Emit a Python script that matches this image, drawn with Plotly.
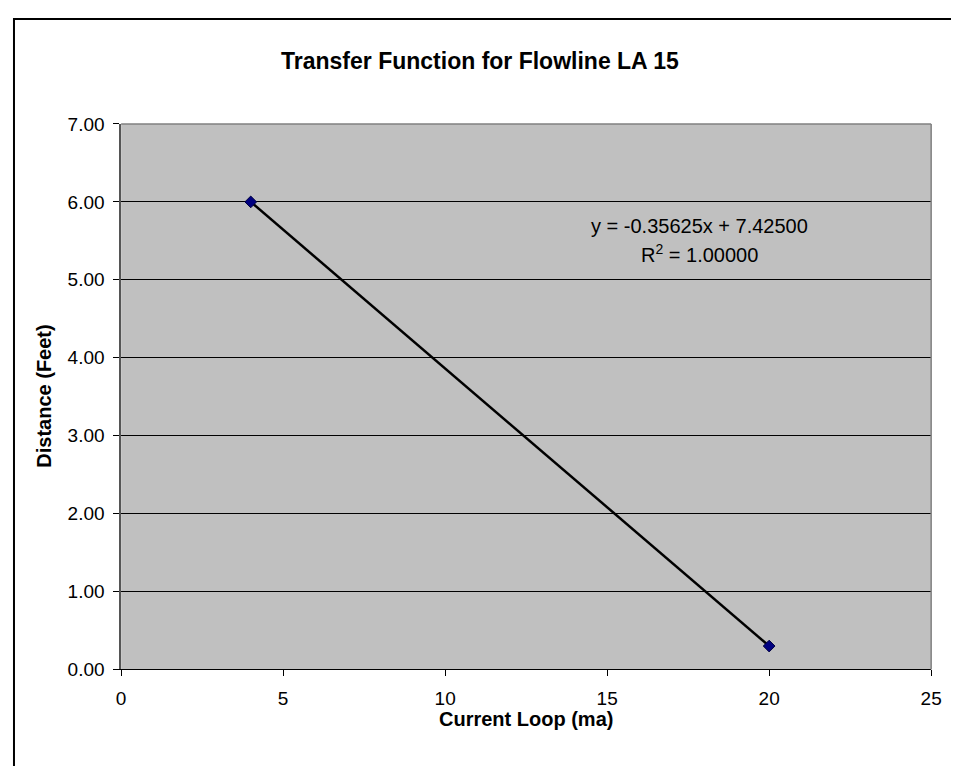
import numpy as np
import plotly.graph_objects as go

# Data
current_ma = [4, 20]
distance_ft = [6.0, 0.3]

x_ticks = [0, 5, 10, 15, 20, 25]
y_ticks = [0, 1, 2, 3, 4, 5, 6, 7]

chart_title = "Transfer Function for Flowline LA 15"
x_title = "Current Loop (ma)"
y_title = "Distance (Feet)"

# page is 959x774, the body keeps an 8px margin, so the figure is a bit smaller
OFF = 8
W, H = 959 - 2 * OFF, 774 - 2 * OFF
FONT = "Liberation Sans, Arial, sans-serif"


def px(p):
    # page x pixel -> paper x
    return (p - OFF) / W


def py(p):
    # page y pixel -> paper y
    return (H - (p - OFF)) / H


# linear trendline from the two points
slope, intercept = np.polyfit(current_ma, distance_ft, 1)
fit_x = [min(current_ma), max(current_ma)]
fit_y = [slope * v + intercept for v in fit_x]
sign = "+" if intercept >= 0 else "-"
eq_text = f"y = {slope:.5f}x {sign} {abs(intercept):.5f}"
r2_text = "R<sup>2</sup> = 1.00000"

# plot area in page pixels
pl, pr, pt, pb = 118, 942, 117, 678

fig = go.Figure()

fig.add_trace(go.Scatter(
    x=fit_x, y=fit_y, mode="lines",
    line=dict(color="black", width=2.5),
    showlegend=False, hoverinfo="skip"))

fig.add_trace(go.Scatter(
    x=current_ma, y=distance_ft, mode="markers",
    marker=dict(symbol="diamond", size=9, color="#000080",
                line=dict(color="#000040", width=1)),
    showlegend=False))

fig.update_layout(
    width=W, height=H,
    margin=dict(l=0, r=0, t=0, b=0),
    paper_bgcolor="white",
    plot_bgcolor="#C0C0C0",
    font=dict(family=FONT, size=20, color="black"),
    xaxis=dict(
        domain=[px(pl), px(pr)],
        range=[0, 25], tickvals=x_ticks,
        showgrid=False, zeroline=False,
        showline=True, linecolor="black", linewidth=1,
        ticks="outside", ticklen=6, tickcolor="black",
        ticklabeloverflow="allow", ticklabelstandoff=6,
        tickfont=dict(size=19)),
    yaxis=dict(
        domain=[py(pb), py(pt)],
        range=[0, 7], tickvals=y_ticks, tickformat=".2f",
        showgrid=True, gridcolor="black", gridwidth=1,
        zeroline=False,
        showline=True, linecolor="#555555", linewidth=1.5,
        ticks="outside", ticklen=6, tickcolor="black",
        ticklabelstandoff=5,
        tickfont=dict(size=19)),
)

# grey top/right border of the plot area
fig.add_shape(type="line", xref="x domain", yref="y domain",
              x0=0, x1=1, y0=1, y1=1, line=dict(color="#808080", width=1.5))
fig.add_shape(type="line", xref="x domain", yref="y domain",
              x0=1, x1=1, y0=0, y1=1, line=dict(color="#808080", width=1.5))

# chart frame
fig.add_shape(type="rect", xref="paper", yref="paper",
              x0=px(9), x1=1.05, y0=-0.05, y1=py(9),
              line=dict(color="black", width=2))

fig.add_annotation(text=f"<b>{chart_title}</b>", xref="paper", yref="paper",
                   x=px(483), y=py(52), xanchor="center", yanchor="middle",
                   showarrow=False, font=dict(size=23))
fig.add_annotation(text=f"<b>{x_title}</b>", xref="paper", yref="paper",
                   x=px(530), y=py(729), xanchor="center", yanchor="middle",
                   showarrow=False, font=dict(size=20))
fig.add_annotation(text=f"<b>{y_title}</b>", xref="paper", yref="paper",
                   x=px(40), y=py(397), xanchor="center", yanchor="middle",
                   textangle=-90, showarrow=False, font=dict(size=20))

# trendline equation
fig.add_annotation(text=eq_text, xref="paper", yref="paper",
                   x=px(706), y=py(222), xanchor="center", yanchor="middle",
                   showarrow=False, font=dict(size=20))
fig.add_annotation(text=r2_text, xref="paper", yref="paper",
                   x=px(706), y=py(250), xanchor="center", yanchor="middle",
                   showarrow=False, font=dict(size=20))

fig.write_html("out.html")
